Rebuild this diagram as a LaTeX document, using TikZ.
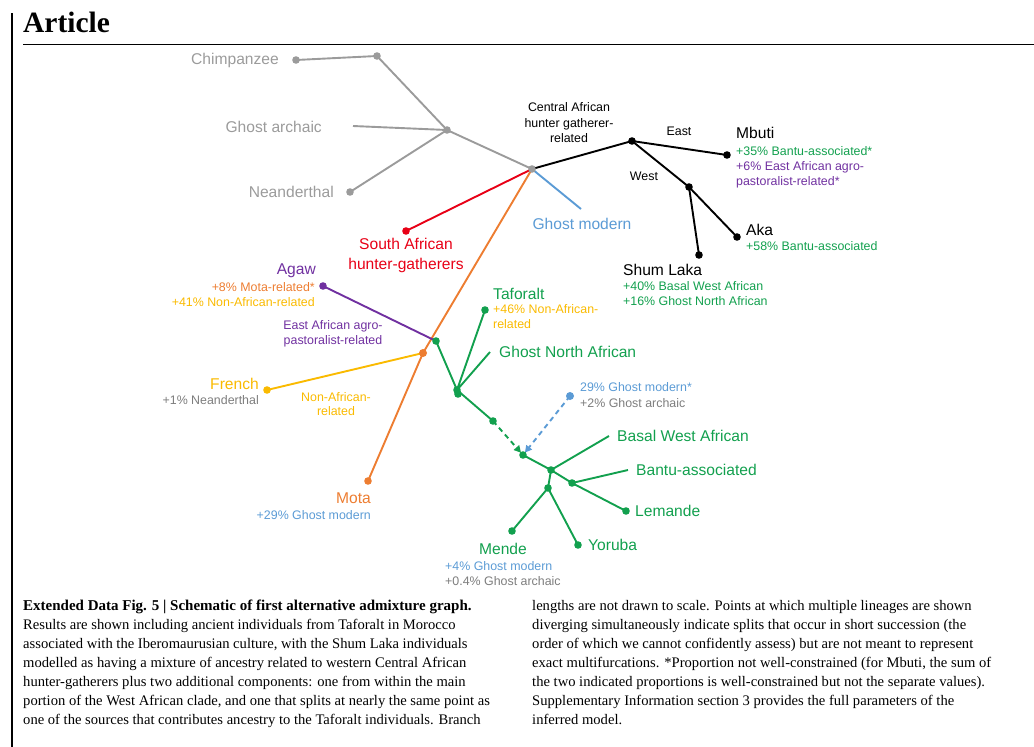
\documentclass[tikz,border=0pt]{standalone}
\usepackage{fontspec}
\setmainfont{Liberation Serif}
\setsansfont{Liberation Sans}
\usetikzlibrary{arrows.meta}
\tikzset{>=stealth}
\definecolor{treegray}{RGB}{155,155,155}
\definecolor{txtgray}{RGB}{125,125,125}
\definecolor{afred}{RGB}{232,0,22}
\definecolor{aforange}{RGB}{237,125,49}
\definecolor{afyellow}{RGB}{250,186,0}
\definecolor{afblue}{RGB}{91,155,213}
\definecolor{afgreen}{RGB}{18,160,78}
\definecolor{afpurple}{RGB}{112,48,160}
\tikzset{
  branch/.style={line width=1.9pt},
  big/.style={font=\sffamily\fontsize{15.6}{19}\selectfont, inner sep=0pt},
  small/.style={font=\sffamily\fontsize{12.4}{15.5}\selectfont, inner sep=0pt},
  captxt/.style={font=\fontsize{14.6}{19}\selectfont, inner sep=0pt, anchor=north west, align=left},
}

\begin{document}
\begin{tikzpicture}[x=1pt,y=-1pt]
    \useasboundingbox (0,0) rectangle (1034,747);
    % page furniture
    \draw[line width=1.2pt] (12,13) -- (12,747);
    \node[anchor=base west, inner sep=0pt, font=\bfseries\fontsize{29.5}{31}\selectfont] (title) at (23,32) {Article};
    \draw[line width=0.9pt] (23,44) -- (1034,44);
    % branch points
    \coordinate (chimp) at (296,60);
    \coordinate (chroot) at (377,56);
    \coordinate (arch) at (447,130);
    \coordinate (archend) at (353,126);
    \coordinate (nean) at (350,192);
    \coordinate (root) at (532,169);
    \coordinate (caf) at (632,141);
    \coordinate (mbuti) at (727,155);
    \coordinate (west) at (689,187);
    \coordinate (aka) at (737,237);
    \coordinate (shum) at (699,255);
    \coordinate (gmod) at (581,209);
    \coordinate (saf) at (406,231);
    \coordinate (nonaf) at (423,353);
    \coordinate (mota) at (368,481);
    \coordinate (french) at (267,390);
    \coordinate (agaw) at (323,286);
    \coordinate (eaf) at (436,341);
    \coordinate (gna) at (457,390);
    \coordinate (tafo) at (485,310);
    \coordinate (gnaend) at (490,352);
    \coordinate (gpre) at (493,421);
    \coordinate (wafr) at (523,455);
    \coordinate (gsrc) at (570,396);
    \coordinate (bwa) at (551,470);
    \coordinate (bwaend) at (609,436);
    \coordinate (bantu) at (572,483);
    \coordinate (bantuend) at (628,470);
    \coordinate (lem) at (626,511);
    \coordinate (nig) at (548,488);
    \coordinate (mende) at (512,531);
    \coordinate (yor) at (578,545);
    % gray part
    \draw[branch, treegray] (chimp) -- (chroot) -- (arch) -- (root);
    \draw[branch, treegray] (archend) -- (arch) -- (nean);
    % central african
    \draw[branch, black] (root) -- (caf) -- (mbuti);
    \draw[branch, black] (caf) -- (west) -- (aka);
    \draw[branch, black] (west) -- (shum);
    % others from root
    \draw[branch, afblue] (root) -- (gmod);
    \draw[branch, afred] (root) -- (saf);
    \draw[branch, aforange] (root) -- (nonaf) -- (mota);
    \draw[branch, afyellow] (french) -- (nonaf);
    \draw[branch, afpurple] (agaw) -- (eaf);
    % north / west african
    \draw[branch, afgreen] (eaf) -- (gna) -- (gpre);
    \draw[branch, afgreen] (tafo) -- (gna) -- (gnaend);
    \draw[branch, afgreen, dash pattern=on 5pt off 4pt, -{Triangle[length=7pt,width=7pt]}, shorten >=3pt] (gpre) -- (wafr);
    \draw[branch, afblue, dash pattern=on 5pt off 4pt, -{Triangle[length=7pt,width=7pt]}, shorten >=3pt] (gsrc) -- (wafr);
    \draw[branch, afgreen] (wafr) -- (bwa) -- (bantu) -- (lem);
    \draw[branch, afgreen] (bwa) -- (bwaend);
    \draw[branch, afgreen] (bantu) -- (bantuend);
    \draw[branch, afgreen] (bwa) -- (nig) -- (mende);
    \draw[branch, afgreen] (nig) -- (yor);
    % dots
    \foreach \p in {chimp,chroot,arch,nean,root}
    \fill[treegray] (\p) circle [radius=3.8];
    \foreach \p in {caf,mbuti,west,aka,shum}
    \fill[black] (\p) circle [radius=3.8];
    \fill[afred] (saf) circle [radius=3.8];
    \fill[aforange] (nonaf) circle [radius=4];
    \fill[aforange] (mota) circle [radius=3.8];
    \fill[afyellow] (french) circle [radius=3.8];
    \fill[afpurple] (agaw) circle [radius=3.8];
    \fill[afblue] (gsrc) circle [radius=4];
    \foreach \p in {eaf,gna,tafo,gpre,wafr,bwa,bantu,nig,lem,mende,yor}
    \fill[afgreen] (\p) circle [radius=3.8];
    \fill[afgreen] (458,394) circle [radius=3.8];
    % labels
    \node[big, treegray, anchor=east] (lchimp) at (279,60) {Chimpanzee};
    \node[big, treegray, anchor=east] (larch) at (322,127) {Ghost archaic};
    \node[big, treegray, anchor=east] (lnean) at (334,192) {Neanderthal};
    \node[small, black, align=center] (lcaf) at (569,123) {Central African\\hunter gatherer-\\related};
    \node[small, black] (least) at (679,131) {East};
    \node[small, black] (lwest) at (644,176) {West};
    \node[big, black, anchor=west] (lmbuti) at (736,133) {Mbuti};
    \node[small, afgreen, anchor=west] (lmbutia) at (736,151) {+35\% Bantu-associated*};
    \node[small, afpurple, anchor=north west, align=left] (lmbutib) at (736,161) {+6\% East African agro-\\pastoralist-related*};
    \node[big, black, anchor=west] (laka) at (746,230) {Aka};
    \node[small, afgreen, anchor=west] (lakaa) at (746,246) {+58\% Bantu-associated};
    \node[big, black, anchor=west] (lshum) at (623,270) {Shum Laka};
    \node[small, afgreen, anchor=north west, align=left] (lshuma) at (623,281) {+40\% Basal West African\\+16\% Ghost North African};
    \node[big, afblue] (lgmod) at (582,224) {Ghost modern};
    \node[big, afred, align=center, font=\sffamily\fontsize{15.6}{20}\selectfont] (lsaf) at (406,255) {South African\\hunter-gatherers};
    \node[big, afpurple, anchor=east] (lagaw) at (316,271) {Agaw};
    \node[small, aforange, anchor=east] (lagawa) at (315,287) {+8\% Mota-related*};
    \node[small, afyellow, anchor=east] (lagawb) at (315,302) {+41\% Non-African-related};
    \node[small, afpurple, align=center, font=\sffamily\fontsize{12.4}{14.5}\selectfont] (leaf) at (333,334) {East African agro-\\pastoralist-related};
    \node[big, afyellow, anchor=east] (lfrench) at (259,384) {French};
    \node[small, txtgray, anchor=east] (lfrencha) at (259,400) {+1\% Neanderthal};
    \node[small, afyellow, align=center, font=\sffamily\fontsize{12.4}{14.5}\selectfont] (lnonaf) at (336,404) {Non-African-\\related};
    \node[big, afgreen, anchor=west] (ltafo) at (493,294) {Taforalt};
    \node[small, afyellow, anchor=north west, align=left] (ltafoa) at (493,304) {+46\% Non-African-\\related};
    \node[big, afgreen, anchor=west] (lgna) at (499,352) {Ghost North African};
    \node[small, afblue, anchor=west] (lgsrc) at (580,387) {29\% Ghost modern*};
    \node[small, txtgray, anchor=west] (lgsrca) at (580,403) {+2\% Ghost archaic};
    \node[big, afgreen, anchor=west] (lbwa) at (617,436) {Basal West African};
    \node[big, afgreen, anchor=west] (lbantu) at (636,470) {Bantu-associated};
    \node[big, afgreen, anchor=west] (llem) at (635,511) {Lemande};
    \node[big, afgreen, anchor=west] (lyor) at (588,545) {Yoruba};
    \node[big, afgreen] (lmende) at (503,549) {Mende};
    \node[small, afblue, anchor=west] (lmendea) at (445,566) {+4\% Ghost modern};
    \node[small, txtgray, anchor=west] (lmendeb) at (445,581) {+0.4\% Ghost archaic};
    \node[big, aforange, anchor=east] (lmota) at (371,498) {Mota};
    \node[small, afblue, anchor=east] (lmotaa) at (371,515) {+29\% Ghost modern};
    % caption
    \node[captxt] (capl) at (23,600) {{\bfseries\fontsize{15}{19}\selectfont Extended Data Fig. 5 | Schematic of first alternative admixture graph.}\\
    Results are shown including ancient individuals from Taforalt in Morocco\\
    associated with the Iberomaurusian culture, with the Shum Laka individuals\\
    modelled as having a mixture of ancestry related to western Central African\\
    hunter-gatherers plus two additional components: one from within the main\\
    portion of the West African clade, and one that splits at nearly the same point as\\
    one of the sources that contributes ancestry to the Taforalt individuals. Branch};
    \node[captxt] (capr) at (532,600) {lengths are not drawn to scale. Points at which multiple lineages are shown\\
    diverging simultaneously indicate splits that occur in short succession (the\\
    order of which we cannot confidently assess) but are not meant to represent\\
    exact multifurcations. *Proportion not well-constrained (for Mbuti, the sum of\\
    the two indicated proportions is well-constrained but not the separate values).\\
    Supplementary Information section 3 provides the full parameters of the\\
    inferred model.};
\end{tikzpicture}
\end{document}
